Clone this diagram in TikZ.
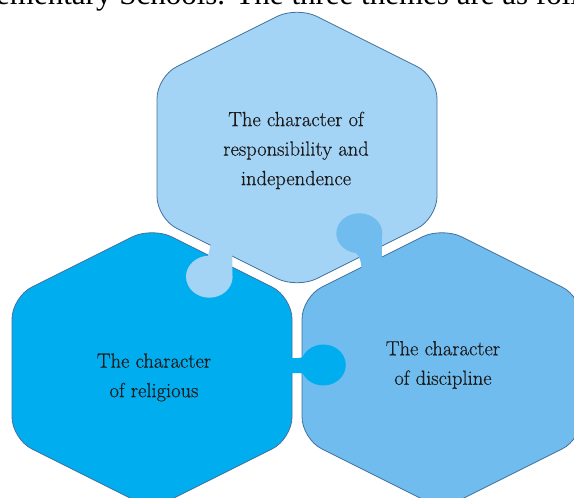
\documentclass[tikz,border=0pt]{standalone}
\usepackage{fontspec}
\newfontfamily\topfont{Liberation Serif}
\newfontfamily\labelfont{Latin Modern Roman}[FakeBold=0.4]
\definecolor{hexA}{HTML}{A3D3F5}
\definecolor{hexB}{HTML}{00AEEF}
\definecolor{hexC}{HTML}{71BCEE}
\definecolor{hexline}{HTML}{41719C}
\definecolor{txt}{HTML}{1A1A1A}
\tikzset{
  hexbox/.style={draw=hexline, line width=0.8pt, rounded corners=22pt},
  label/.style={inner sep=0pt, align=center, text=txt, font=\labelfont\fontsize{20.5}{29.5}\selectfont},
}
\begin{document}
\begin{tikzpicture}[x=1pt,y=-1pt]
\useasboundingbox (0,0) rectangle (574,498);
\clip (0,0) rectangle (574,498);
% clipped line of the surrounding text
\node[anchor=base west, inner sep=0pt, font=\topfont\fontsize{31}{31}\selectfont, text=black] (toptext) at (-4,4) {ementary Schools. The three themes are as follows};
% centres
\coordinate (cA) at (297,147.5);
\coordinate (cB) at (152,368);
\coordinate (cC) at (442,368);
% hexagons
\path[hexbox, fill=hexA] (297,6.5) -- (437,76.5) -- (437,218.5) -- (297,288.5) -- (157,218.5) -- (157,76.5) -- cycle;
\path[hexbox, fill=hexB] (152,227) -- (292,297) -- (292,439) -- (152,509) -- (12,439) -- (12,297) -- cycle;
\path[hexbox, fill=hexC] (442,227) -- (582,297) -- (582,439) -- (442,509) -- (302,439) -- (302,297) -- cycle;
% knob: top hexagon into left hexagon
\fill[hexA] (209.3,276.7) ellipse [x radius=23.3, y radius=21];
\fill[hexA] (211,243) -- (232.3,253.5) -- (232.3,274) -- (213,274) .. controls (213,262) and (212,258) .. (208,256) -- cycle;
% knob: right hexagon into top hexagon
\fill[hexC] (359.3,233.3) ellipse [x radius=23, y radius=20];
\fill[hexC] (360,233) -- (381.8,233) -- (381.8,260) -- (362,272) .. controls (361,262) and (360,256) .. (356,253) -- cycle;
% knob: left hexagon into right hexagon
\fill[hexB] (323.3,365) ellipse [x radius=22.5, y radius=20.5];
\fill[hexB] (286,358) -- (298,358) .. controls (304,358) and (307,355) .. (312,350) -- (312,380) .. controls (307,375) and (304,373) .. (298,373) -- (286,373) -- cycle;
% labels
\node[label] (tA) at (296,150.4) {The character of\\responsibility and\\independence};
\node[label] (tB) at (154,377.4) {The character\\of religious};
\node[label] (tC) at (443,364.9) {The character\\of discipline};
\end{tikzpicture}
\end{document}
